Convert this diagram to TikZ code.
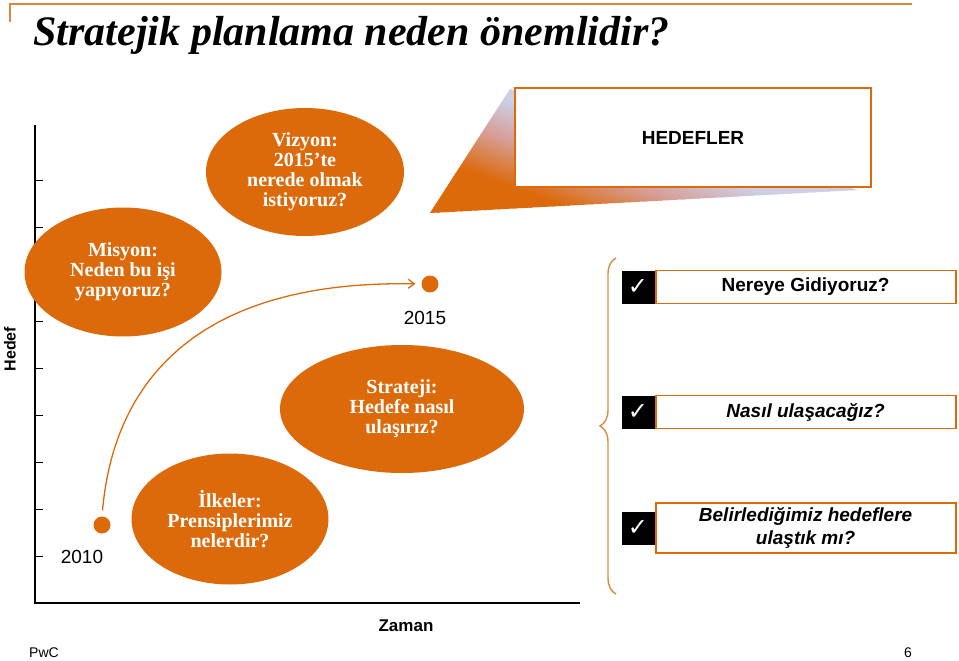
\documentclass[tikz,border=0pt]{standalone}
\usepackage{fontspec}
\setmainfont{Liberation Serif}
\setsansfont{Liberation Sans}
\newfontfamily\checkfont{DejaVu Sans}
\usetikzlibrary{shapes.geometric,arrows.meta,decorations.pathreplacing}
\definecolor{pwcorange}{RGB}{220,105,10}
\definecolor{lineorange}{RGB}{214,140,62}
\definecolor{fadeblue}{RGB}{204,207,230}
\definecolor{fadepink}{RGB}{214,160,155}
\tikzset{
  bubble/.style={ellipse, fill=pwcorange, text=white, inner sep=0pt, align=center,
    font=\bfseries\fontsize{20}{20}\selectfont},
  dot/.style={circle, fill=pwcorange, minimum size=17pt, inner sep=0pt},
  goalbox/.style={draw=pwcorange, line width=1.8pt, fill=white, align=center,
    minimum width=300pt, minimum height=33pt, inner sep=0pt,
    font=\sffamily\bfseries\fontsize{19}{23}\selectfont},
  checkbox/.style={fill=black, text=white, minimum width=33pt, minimum height=33pt,
    inner sep=0pt, font=\checkfont\fontsize{24}{24}\selectfont},
  yearlabel/.style={font=\sffamily\fontsize{19}{19}\selectfont}
}
\begin{document}
\begin{tikzpicture}[x=1pt, y=-1pt]
    \useasboundingbox (0,0) rectangle (959,661);
    \draw[lineorange, line width=1.5pt] (10,22) -- (10,4) -- (912,4);
    \node[anchor=base west, font=\bfseries\itshape\fontsize{42}{48}\selectfont] (title) at (30,46) {Stratejik planlama neden önemlidir?};

    % axes
    \draw[line width=1.5pt] (35,125) -- (35,603) -- (580,603);
    \foreach \y in {180,227,274,321,368,415,462,509,556}
        \draw[line width=1pt] (35,\y) -- (43,\y);
    \node[rotate=90, font=\sffamily\bfseries\fontsize{16}{16}\selectfont] (hedef) at (10,349) {Hedef};
    \node[font=\sffamily\bfseries\fontsize{17}{17}\selectfont] (zaman) at (406,626) {Zaman};

    % hedefler, wedge fading from orange to blue
    \begin{scope}
        \clip (430,213) -- (510,89) -- (858,190) -- cycle;
        \foreach \s in {0,3,...,168} {
            \pgfmathsetmacro\pa{min(max((\s-51)/44*100,0),100)}
            \pgfmathsetmacro\pb{min(max((\s-95)/36*100,0),100)}
            \colorlet{bandA}{fadepink!\pa!pwcorange}
            \colorlet{bandB}{fadeblue!\pb!bandA}
            \fill[bandB] (430+0.342*\s-47, 213-0.940*\s-17.1) -- ++(470,171) -- ++(1.4,-3.8) -- ++(-470,-171) -- cycle;
        }
    \end{scope}
    \node[goalbox, minimum width=356pt, minimum height=99pt, font=\sffamily\bfseries\fontsize{19}{19}\selectfont] (hedefler) at (693,137.5) {HEDEFLER};

    \node[bubble, minimum width=198pt, minimum height=128pt] (vizyon) at (305,172) {Vizyon:\\2015’te\\nerede olmak\\istiyoruz?};
    \node[bubble, minimum width=197pt, minimum height=129pt] (misyon) at (123,272) {Misyon:\\Neden bu işi\\yapıyoruz?};
    \node[bubble, minimum width=244pt, minimum height=128pt] (strateji) at (402,409) {Strateji:\\Hedefe nasıl\\ulaşırız?};
    \node[bubble, minimum width=197pt, minimum height=131pt] (ilkeler) at (230,519) {İlkeler:\\Prensiplerimiz\\nelerdir?};

    \node[dot] (start) at (102,525) {};
    \node[dot] (target) at (430,284) {};
    \node[yearlabel] (yil2010) at (82,557) {2010};
    \node[yearlabel] (yil2015) at (425,318) {2015};
    \draw[pwcorange, line width=1.3pt, -{Straight Barb[length=6pt,width=9pt]}, shorten <=6pt, shorten >=6pt]
        (start.north) .. controls (115,370) and (210,280) .. (target.west);

    % sorular
    \draw[lineorange, line width=1.4pt, decorate, decoration={brace, amplitude=16pt}] (616,594) -- (616,258);
    \node[checkbox] (tik1) at (638,287) {✓};
    \node[checkbox] (tik2) at (638,412) {✓};
    \node[checkbox] (tik3) at (638,528) {✓};
    \node[goalbox, anchor=west] (soru1) at (tik1.east) {Nereye Gidiyoruz?};
    \node[goalbox, anchor=west, font=\sffamily\bfseries\itshape\fontsize{19}{23}\selectfont] (soru2) at (tik2.east) {Nasıl ulaşacağız?};
    \node[goalbox, anchor=west, minimum height=50pt, font=\sffamily\bfseries\itshape\fontsize{19}{23}\selectfont] (soru3) at (tik3.east) {Belirlediğimiz hedeflere\\ulaştık mı?};

    \node[font=\sffamily\fontsize{14}{14}\selectfont] (pwc) at (44,653) {PwC};
    \node[font=\sffamily\fontsize{14}{14}\selectfont] (sayfa) at (908,653) {6};
\end{tikzpicture}
\end{document}
